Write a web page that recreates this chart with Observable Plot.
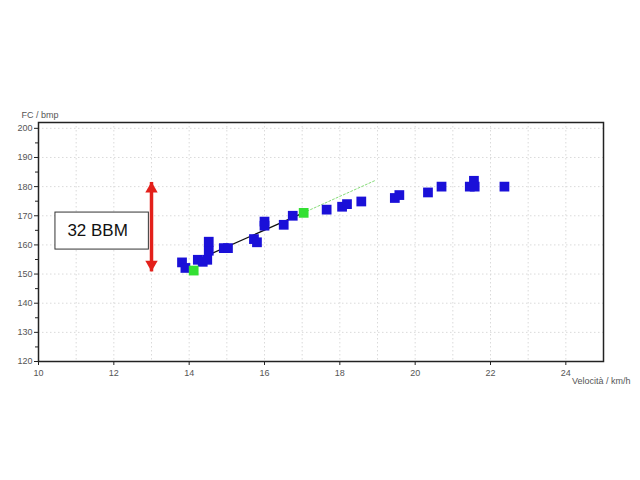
<!DOCTYPE html>
<html>
<head>
<meta charset="utf-8">
<script src="https://cdn.jsdelivr.net/npm/d3@7"></script>
<script src="https://cdn.jsdelivr.net/npm/@observablehq/plot@0.6"></script>
<style>
  html, body { margin: 0; padding: 0; background: #fff; }
  svg { font-family: "Liberation Sans", Arial, sans-serif; display: block; }
</style>
</head>
<body>
<div id="chart"></div>
<script>
// Blue measurements: speed (km/h) and heart rate (bpm)
const speedBlue = [13.81, 13.9, 14.23, 14.36, 14.48, 14.52, 14.52, 14.92, 15.03, 15.72, 15.8, 16.0, 16.0, 16.51, 16.75, 17.65, 18.06, 18.19, 18.57, 19.46, 19.58, 20.34, 20.7, 21.45, 21.56, 21.58, 22.37];
const hrBlue    = [154,   152.1, 154.9, 154.2, 154.9, 158,   161.1, 158.9, 158.9, 162,   160.9, 168,  166.6, 166.9, 170,   172.1, 173.1, 174,   174.9, 176.1, 177.1, 178,   180,  180,   182,   180,   180];
// Green (threshold) points
const speedGreen = [14.12, 17.04];
const hrGreen    = [151.2, 171];
// Regression line (black) and its dotted extension (green)
const fitSpeed = [14.17, 17.03];
const fitHr    = [154.6, 171];
const extSpeed = [17.03, 18.92];
const extHr    = [171, 182];
// Annotation: double arrow and box
const arrowSpeed = [13];
const arrowTop = [181.6];
const arrowBottom = [150.9];
const boxX1 = [10.45], boxX2 = [12.93], boxY1 = [158.4], boxY2 = [171.1];
const boxLabel = ["32 BBM"];
const boxLabelX = [11.57], boxLabelY = [164.8];
// Ticks and labels
const xTicks = [10, 12, 14, 16, 18, 20, 22, 24];
const xGrid = [11, 12, 13, 14, 15, 16, 17, 18, 19, 20, 21, 22, 23, 24];
const yTicks = [120, 130, 140, 150, 160, 170, 180, 190, 200];
const yMinor = [125, 135, 145, 155, 165, 175, 185, 195];
const yGrid = [130, 140, 150, 160, 170, 180, 190, 200];
const yLabel = "FC / bmp";
const xLabel = "Velocità / km/h";

const blue = speedBlue.map((s, i) => ({s, h: hrBlue[i]}));
const green = speedGreen.map((s, i) => ({s, h: hrGreen[i]}));
const fit = fitSpeed.map((s, i) => ({s, h: fitHr[i]}));
const ext = extSpeed.map((s, i) => ({s, h: extHr[i]}));
const arrows = arrowSpeed.map((s, i) => ({s, top: arrowTop[i], bottom: arrowBottom[i]}));
const box = boxX1.map((x1, i) => ({x1, x2: boxX2[i], y1: boxY1[i], y2: boxY2[i]}));
const boxText = boxLabel.map((t, i) => ({t, x: boxLabelX[i], y: boxLabelY[i]}));

const chart = Plot.plot({
  width: 640,
  height: 480,
  marginLeft: 38,
  marginRight: 37,
  marginTop: 122,
  marginBottom: 119,
  style: {fontFamily: "Liberation Sans, Arial, sans-serif", fontSize: "9px", color: "#555"},
  x: {domain: [10, 25]},
  y: {domain: [120, 202]},
  marks: [
    Plot.ruleX(xGrid, {stroke: "#dadada", strokeDasharray: "1.5,2.5", strokeWidth: 1}),
    Plot.ruleY(yGrid, {stroke: "#dadada", strokeDasharray: "1.5,2.5", strokeWidth: 1}),
    Plot.axisX(xTicks, {tickSize: 4, tickPadding: 4, fontSize: 9, label: null, stroke: "#222", fill: "#555"}),
    Plot.axisY(yTicks, {tickSize: 4, tickPadding: 2, fontSize: 9, label: null, stroke: "#222", fill: "#555"}),
    Plot.axisY(yMinor, {tickSize: 3, text: null, label: null, stroke: "#222"}),
    Plot.frame({stroke: "#222", strokeWidth: 1.5}),
    Plot.text([yLabel], {frameAnchor: "top-left", dx: -17, dy: -11, textAnchor: "start", fontSize: 9, fill: "#555"}),
    Plot.text([xLabel], {frameAnchor: "bottom-right", dx: 27, dy: 22, textAnchor: "end", fontSize: 9, fill: "#555"}),
    // regression line and extension
    Plot.line(ext, {x: "s", y: "h", stroke: "#86dc78", strokeWidth: 1, strokeDasharray: "2,2"}),
    Plot.line(fit, {x: "s", y: "h", stroke: "#111", strokeWidth: 1.3}),
    // data points
    Plot.dot(blue, {x: "s", y: "h", symbol: "square", r: 5.5, fill: "#1a10d8", stroke: "none"}),
    Plot.dot(green, {x: "s", y: "h", symbol: "square", r: 5.5, fill: "#33e033", stroke: "none"}),
    // annotation box
    Plot.rect(box, {x1: "x1", x2: "x2", y1: "y1", y2: "y2", fill: "white", stroke: "#333", strokeWidth: 1}),
    Plot.text(boxText, {x: "x", y: "y", text: "t", fontSize: 17, fill: "#111", textAnchor: "middle"}),
    // red double arrow
    Plot.link(arrows, {x1: "s", x2: "s", y1: "bottom", y2: "top", stroke: "#e3201b", strokeWidth: 3.5}),
    Plot.dot(arrows, {x: "s", y: "top", symbol: "triangle", r: 4.6, fill: "#e3201b", stroke: "none", dy: 7}),
    Plot.dot(arrows, {x: "s", y: "bottom", symbol: "triangle", r: 4.6, fill: "#e3201b", stroke: "none", dy: -7, rotate: 180})
  ]
});
document.getElementById("chart").append(chart);
</script>
</body>
</html>
